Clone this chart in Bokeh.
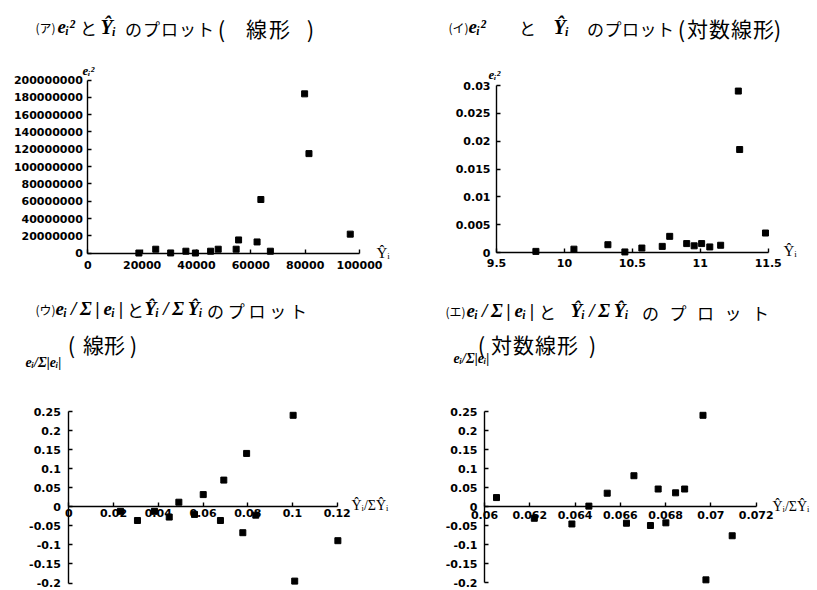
from bokeh.plotting import figure
from bokeh.models import Label, FixedTicker, NumeralTickFormatter, Range1d
from bokeh.layouts import column, row
from bokeh.embed import file_html
from bokeh.resources import INLINE

# ---------------- data ----------------
# (ア) linear: fitted values vs squared residuals
a_yhat = [18800, 25000, 30500, 36100, 39600, 45200, 48000, 54600, 55500,
          62300, 63700, 67200, 79800, 81400, 96600]
a_e2 = [200000, 4600000, 300000, 2300000, 200000, 2300000, 4600000, 4600000,
        15300000, 13000000, 62000000, 2300000, 184000000, 115000000, 22000000]

# (イ) log-linear
b_yhat = [9.79, 10.07, 10.32, 10.445, 10.57, 10.72, 10.775, 10.90, 10.955,
          11.01, 11.07, 11.15, 11.28, 11.29, 11.48]
b_e2 = [0.0002, 0.0006, 0.0014, 0.0001, 0.0008, 0.0011, 0.0029, 0.0016,
        0.0012, 0.0016, 0.0010, 0.0013, 0.0290, 0.0185, 0.0035]

# (ウ) linear, normalised
c_x = [0.0231, 0.0307, 0.0383, 0.0449, 0.0492, 0.0562, 0.0601, 0.0678,
       0.0693, 0.0778, 0.0795, 0.0836, 0.1003, 0.1010, 0.1203]
c_y = [-0.012, -0.036, -0.012, -0.027, 0.012, -0.020, 0.032, -0.036,
       0.070, -0.068, 0.140, -0.022, 0.240, -0.195, -0.089]

# (エ) log-linear, normalised
d_x = [0.06053, 0.0622, 0.06386, 0.06461, 0.06542, 0.06627, 0.0666, 0.06733,
       0.06767, 0.06801, 0.06844, 0.06884, 0.06965, 0.06978, 0.07094]
d_y = [0.0235, -0.031, -0.046, 0.001, 0.035, -0.044, 0.081, -0.050,
       0.046, -0.043, 0.036, 0.046, 0.240, -0.193, -0.077]

a_xticks = [0, 20000, 40000, 60000, 80000, 100000]
a_yticks = [0, 20000000, 40000000, 60000000, 80000000, 100000000,
            120000000, 140000000, 160000000, 180000000, 200000000]
b_xticks = [9.5, 10, 10.5, 11, 11.5]
b_yticks = [0, 0.005, 0.01, 0.015, 0.02, 0.025, 0.03]
c_xticks = [0, 0.02, 0.04, 0.06, 0.08, 0.1, 0.12]
d_xticks = [0.06, 0.062, 0.064, 0.066, 0.068, 0.07, 0.072]
cd_yticks = [-0.2, -0.15, -0.1, -0.05, 0, 0.05, 0.1, 0.15, 0.2, 0.25]

# title pieces and axis labels
tag_a, tag_b, tag_c, tag_d = "(ア)", "(イ)", "(ウ)", "(エ)"
sq_res = "eᵢ²"
fit = "Ŷᵢ"
norm_res = "eᵢ/Σ|eᵢ|"
norm_fit = "Ŷᵢ/ΣŶᵢ"
T = "\u2009"  # thin space used to widen the title formulas
norm_res_title = T.join(["eᵢ", "/", "Σ", "|", "eᵢ", "|"])
norm_fit_title = T.join(["Ŷᵢ", "/", "Σ", "Ŷᵢ"])
conj = "と"
plot_word = "のプロット"
lin_word = "線形"
loglin_word = "対数線形"

TICK_FONT = "DejaVu Sans"
CJK_FONT = "Noto Sans CJK JP"
MATH_FONT = "Liberation Serif"


def full_range(v0, v1, p0, p1, size):
    k = (v1 - v0) / (p1 - p0)
    return v0 - p0 * k, v0 + (size - p0) * k


def make(w, h, xr, yr, xpix, ypix, xt, yt, xfmt, yfmt, xstand, ystand):
    xs, xe = full_range(xr[0], xr[1], xpix[0], xpix[1], w)
    ys, ye = full_range(yr[0], yr[1], h - ypix[1], h - ypix[0], h)
    p = figure(width=w, height=h, x_range=Range1d(xs, xe), y_range=Range1d(ys, ye),
               output_backend="svg", toolbar_location=None, min_border=0,
               min_border_left=0, min_border_right=0, min_border_top=0, min_border_bottom=0)
    p.grid.visible = False
    p.outline_line_color = None
    p.xaxis.ticker = FixedTicker(ticks=xt)
    p.yaxis.ticker = FixedTicker(ticks=yt)
    p.xaxis.formatter = NumeralTickFormatter(format=xfmt)
    p.yaxis.formatter = NumeralTickFormatter(format=yfmt)
    p.xaxis.fixed_location = 0
    p.yaxis.fixed_location = xr[0]
    p.xaxis.bounds = (xr[0], xr[1])
    p.yaxis.bounds = (yr[0], yr[1])
    for ax in (p.xaxis[0], p.yaxis[0]):
        ax.axis_line_color = "black"
        ax.axis_line_width = 1.4
        ax.major_tick_line_color = "black"
        ax.major_tick_line_width = 1.4
        ax.major_tick_in = 4
        ax.major_tick_out = 0
        ax.minor_tick_line_color = None
        ax.major_label_text_font = TICK_FONT
        ax.major_label_text_font_style = "bold"
        ax.major_label_text_font_size = "11px"
        ax.major_label_text_color = "black"
    p.xaxis.major_label_standoff = xstand
    p.yaxis.major_label_standoff = ystand
    return p


def put(p, off, ix, iy, text, font, size, style="normal", align="left"):
    """Place text at page coordinates (ix, iy); off = figure's top-left on the page."""
    p.add_layout(Label(x=ix - off[0], y=p.height - (iy - off[1]),
                       x_units="screen", y_units="screen",
                       text=text, text_font=font, text_font_size=f"{size}px",
                       text_font_style=style, text_align=align,
                       text_baseline="middle", text_color="black"))


def spread(p, off, chars, c0, c1, iy, size):
    n = len(chars)
    for i, ch in enumerate(chars):
        cx = c0 + (c1 - c0) * i / (n - 1) if n > 1 else c0
        put(p, off, cx, iy, ch, CJK_FONT, size, align="center")


def paren_word(p, off, word, lp, c0, c1, rp, iy, size):
    put(p, off, lp, iy, "(", CJK_FONT, size + 1, align="center")
    spread(p, off, word, c0, c1, iy, size)
    put(p, off, rp, iy, ")", CJK_FONT, size + 1, align="center")


# ---- (ア) ----
oa = (0, 0)
pa = make(408, 290, (0, 100000), (0, 200000000), (87.3, 359), (79.5, 252.7),
          a_xticks, a_yticks, "0", "0", 8, 5)
pa.scatter(a_yhat, a_e2, marker="square", size=6, color="black")
put(pa, oa, 35, 27, tag_a, CJK_FONT, 12)
put(pa, oa, 57, 26, sq_res, MATH_FONT, 19, "bold italic")
put(pa, oa, 88, 27, conj, CJK_FONT, 17, align="center")
put(pa, oa, 100, 26, fit, MATH_FONT, 20, "bold italic")
spread(pa, oa, plot_word, 133, 205, 28, 17)
paren_word(pa, oa, lin_word, 221, 256, 279, 310, 27, 21)
put(pa, oa, 82, 70, sq_res, MATH_FONT, 13, "bold italic")
put(pa, oa, 376, 252, fit, MATH_FONT, 15)

# ---- (イ) ----
ob = (408, 0)
pb = make(409, 290, (9.5, 11.5), (0, 0.03), (88, 359.7), (85, 252),
          b_xticks, b_yticks, "0.[0]", "0.[000]", 6, 6)
pb.scatter(b_yhat, b_e2, marker="square", size=6, color="black")
put(pb, ob, 448, 27, tag_b, CJK_FONT, 12)
put(pb, ob, 468, 26, sq_res, MATH_FONT, 19, "bold italic")
put(pb, ob, 527, 27, conj, CJK_FONT, 17, align="center")
put(pb, ob, 553, 26, fit, MATH_FONT, 20, "bold italic")
spread(pb, ob, plot_word, 595, 665, 28, 17)
paren_word(pb, ob, loglin_word, 681, 697, 763, 777, 27, 21)
put(pb, ob, 488, 74, sq_res, MATH_FONT, 13, "bold italic")
put(pb, ob, 783, 250, fit, MATH_FONT, 15)

# ---- (ウ) ----
oc = (0, 290)
pc = make(408, 300, (0, 0.12), (-0.2, 0.25), (68.3, 336.7), (121, 292.5),
          c_xticks, cd_yticks, "0.[00]", "0.[00]", 2, 8)
pc.scatter(c_x, c_y, marker="square", size=6, color="black")
put(pc, oc, 35, 309, tag_c, CJK_FONT, 12)
put(pc, oc, 55, 308, norm_res_title, MATH_FONT, 19, "bold italic")
put(pc, oc, 135, 309, conj, CJK_FONT, 17, align="center")
put(pc, oc, 144, 308, norm_fit_title, MATH_FONT, 19, "bold italic")
spread(pc, oc, plot_word, 215, 298, 310, 17)
paren_word(pc, oc, lin_word, 71, 93, 114, 133, 343, 21)
put(pc, oc, 25, 362, norm_res, MATH_FONT, 14, "bold italic")
put(pc, oc, 351, 505, norm_fit, MATH_FONT, 14)

# ---- (エ) ----
od = (408, 290)
pd_ = make(409, 300, (0.06, 0.072), (-0.2, 0.25), (76, 347.7), (121, 292),
           d_xticks, cd_yticks, "0.[000]", "0.[00]", 4, 7)
pd_.scatter(d_x, d_y, marker="square", size=6, color="black")
put(pd_, od, 445, 311, tag_d, CJK_FONT, 12)
put(pd_, od, 466, 310, norm_res_title, MATH_FONT, 19, "bold italic")
put(pd_, od, 547, 311, conj, CJK_FONT, 17, align="center")
put(pd_, od, 570, 310, norm_fit_title, MATH_FONT, 19, "bold italic")
spread(pd_, od, plot_word, 650, 760, 312, 17)
paren_word(pd_, od, loglin_word, 481, 501, 567, 592, 343, 21)
put(pd_, od, 453, 358, norm_res, MATH_FONT, 14, "bold italic")
put(pd_, od, 772, 506, norm_fit, MATH_FONT, 14)

layout = column(row(pa, pb), row(pc, pd_))
open("out.html", "w").write(file_html(layout, INLINE))
